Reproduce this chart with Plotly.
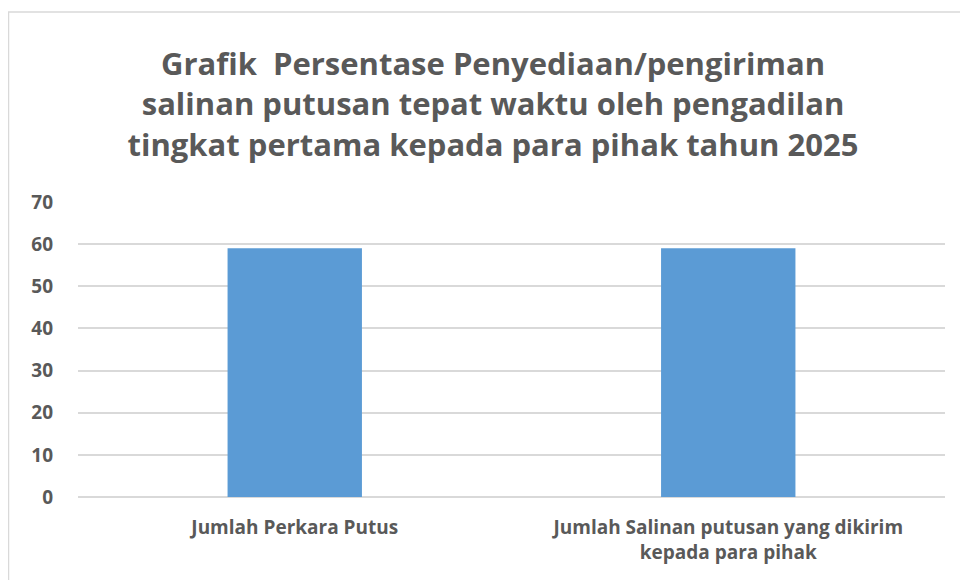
import plotly.graph_objects as go

categories = ["Jumlah Perkara Putus", "Jumlah Salinan putusan yang dikirim<br>kepada para pihak"]
values = [59, 59]
y_ticks = [0, 10, 20, 30, 40, 50, 60, 70]
title_text = ("Grafik  Persentase Penyediaan/pengiriman<br>"
              "salinan putusan tepat waktu oleh pengadilan<br>"
              "tingkat pertama kepada para pihak tahun 2025")

# page body has an 8px default margin; figure coords = screen coords - 8
W, H = 968, 580
L, R, T, B = 70, 31, 194, 91
ph = H - T - B
pw = W - L - R

fig = go.Figure(go.Bar(x=categories, y=values, marker=dict(color="#5B9BD5", line=dict(width=0)),
                       width=0.31, hoverinfo="skip"))

fig.update_layout(
    width=W, height=H,
    margin=dict(l=L, r=R, t=T, b=B, pad=0),
    paper_bgcolor="white", plot_bgcolor="white",
    showlegend=False,
    font=dict(family="Open Sans", color="#595959"),
    title=dict(text="<b>" + title_text + "</b>", x=485 / W, xanchor="center",
               y=1 - 67 / H, yanchor="middle", yref="container",
               font=dict(size=31, color="#595959", family="Open Sans")),
    xaxis=dict(showgrid=False, showline=False, ticks="", zeroline=False,
               tickfont=dict(size=19, color="#595959", family="Open Sans", weight="bold"),
               ticklabelstandoff=17),
    yaxis=dict(range=[0, 70], tickvals=y_ticks, showgrid=True, gridcolor="#d9d9d9", gridwidth=1.5,
               zeroline=True, zerolinecolor="#d9d9d9", zerolinewidth=1.5, showline=False, ticks="",
               tickfont=dict(size=19, color="#595959", family="Open Sans", weight="bold"),
               ticklabelstandoff=24),
    shapes=[dict(type="rect", xref="paper", yref="paper",
                 x0=(0.5 - L) / pw, x1=(990 - L) / pw,
                 y0=(H - B - 600) / ph, y1=(H - B - 4) / ph,
                 line=dict(color="#d9d9d9", width=1.5), fillcolor="rgba(0,0,0,0)", layer="below")],
)

fig.write_html("out.html")
